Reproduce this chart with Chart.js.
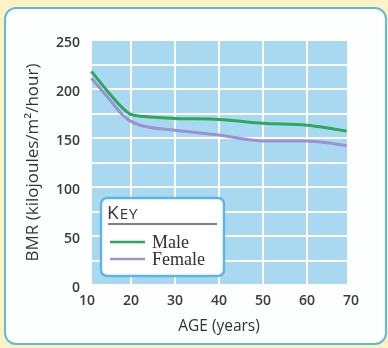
<!DOCTYPE html>
<html>
<head>
<meta charset="utf-8">
<script src="https://cdn.jsdelivr.net/npm/chart.js@4.4.1/dist/chart.umd.min.js"></script>
<style>
  html, body { margin: 0; padding: 0; background: #fbf3c6; }
  #wrap { position: relative; width: 388px; height: 348px; }
  canvas { display: block; }
</style>
</head>
<body>
<div id="wrap"><canvas id="c" width="388" height="348"></canvas></div>
<script>
const ages = [11, 15, 18, 20, 23, 30, 40, 50, 60, 65, 69];
const male = [218, 196, 181, 174, 172, 170, 169, 165, 163, 160, 157];
const female = [211, 190, 174, 167, 162, 158, 153, 147, 147, 145, 142];
const seriesNames = ['Male', 'Female'];
const xTicks = [10, 20, 30, 40, 50, 60, 70];
const yLabelTicks = [0, 50, 100, 150, 200, 250];

const GREEN = '#2fa75a';
const PURPLE = '#9c91d2';

function pts(vals) { return ages.map((a, i) => ({ x: a, y: vals[i] })); }

const bgPlugin = {
  id: 'bg',
  beforeDraw(chart) {
    const ctx = chart.ctx;
    ctx.save();
    ctx.fillStyle = '#fbf3c6';
    ctx.fillRect(0, 0, chart.width, chart.height);
    ctx.beginPath();
    ctx.roundRect(5, 8, 381, 336, 11);
    ctx.fillStyle = '#fdfefe';
    ctx.fill();
    ctx.lineWidth = 2;
    ctx.strokeStyle = '#63b8df';
    ctx.stroke();
    const a = chart.chartArea;
    ctx.fillStyle = '#a9d9f1';
    ctx.fillRect(a.left + 5, a.top, a.right - a.left - 9, a.bottom - a.top);
    ctx.restore();
  }
};

const keyPlugin = {
  id: 'key',
  afterDraw(chart) {
    const ctx = chart.ctx;
    ctx.save();
    const bx = 101, by = 198, bw = 123, bh = 78;
    ctx.beginPath();
    ctx.roundRect(bx, by, bw, bh, 6);
    ctx.fillStyle = '#ffffff';
    ctx.fill();
    ctx.lineWidth = 2.5;
    ctx.strokeStyle = '#5fb6e0';
    ctx.stroke();
    ctx.fillStyle = '#333333';
    ctx.textBaseline = 'alphabetic';
    ctx.font = '500 19px "Open Sans"';
    ctx.fillText('K', 107, 219);
    const kw = ctx.measureText('K').width;
    ctx.font = '500 15px "Open Sans"';
    ctx.letterSpacing = '1px';
    ctx.fillText('EY', 107 + kw + 1, 219);
    ctx.letterSpacing = '0px';
    ctx.beginPath();
    ctx.moveTo(108, 224);
    ctx.lineTo(217, 224);
    ctx.lineWidth = 1.5;
    ctx.strokeStyle = '#555555';
    ctx.stroke();
    const ys = [242, 259];
    chart.data.datasets.forEach((ds, i) => {
      ctx.beginPath();
      ctx.moveTo(110, ys[i]);
      ctx.lineTo(145, ys[i]);
      ctx.lineWidth = 2.5;
      ctx.strokeStyle = ds.borderColor;
      ctx.stroke();
      ctx.fillStyle = '#2e2e3a';
      ctx.font = '18px "Liberation Serif"';
      ctx.textBaseline = 'middle';
      ctx.fillText(ds.label, 152, ys[i] + 1);
    });
    ctx.restore();
  }
};

new Chart(document.getElementById('c'), {
  type: 'line',
  data: {
    datasets: [
      { label: seriesNames[0], data: pts(male), borderColor: GREEN, borderWidth: 3, pointRadius: 0, cubicInterpolationMode: 'monotone', fill: false },
      { label: seriesNames[1], data: pts(female), borderColor: PURPLE, borderWidth: 3, pointRadius: 0, cubicInterpolationMode: 'monotone', fill: false }
    ]
  },
  options: {
    responsive: false,
    animation: false,
    layout: { padding: { left: 18, top: 40, right: 37, bottom: 12 } },
    plugins: { legend: { display: false }, tooltip: { enabled: false } },
    scales: {
      x: {
        type: 'linear',
        min: 10, max: 70,
        afterBuildTicks(s) { s.ticks = xTicks.map(v => ({ value: v })); },
        afterFit(s) { s.height = 51; },
        grid: { color: '#ffffff', lineWidth: 2, drawTicks: false },
        border: { display: false },
        ticks: { padding: 8, color: '#3a3a3a', font: { family: '"Open Sans"', size: 14, weight: '600' }, maxRotation: 0 },
        title: { display: true, text: 'AGE (years)', color: '#333333', font: { family: '"Open Sans"', size: 15.5, weight: '500' }, padding: { top: 0, bottom: 0 } }
      },
      y: {
        min: 0, max: 250,
        ticks: {
          stepSize: 25, padding: 7, labelOffset: 3,
          color: '#3a3a3a', font: { family: '"Open Sans"', size: 14, weight: '600' },
          callback: v => yLabelTicks.includes(v) ? String(v) : ''
        },
        afterFit(s) { s.width = 69; },
        grid: { color: '#ffffff', lineWidth: 2, drawTicks: false },
        border: { display: false },
        title: { display: true, text: 'BMR (kilojoules/m²/hour)', color: '#333333', font: { family: '"Open Sans"', size: 17, weight: '500' }, padding: { top: 5, bottom: 0 } }
      }
    }
  },
  plugins: [bgPlugin, keyPlugin]
});
</script>
</body>
</html>
